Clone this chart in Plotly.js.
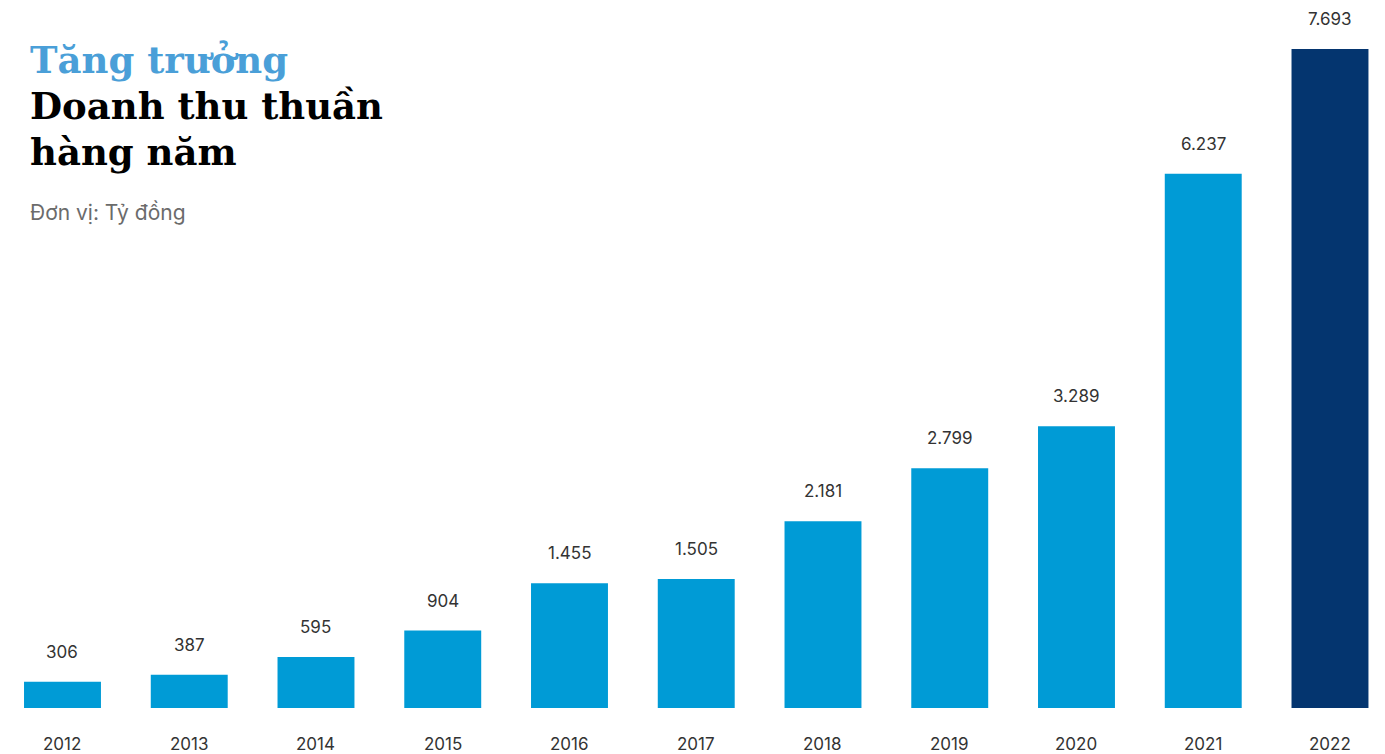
<!DOCTYPE html>
<html>
<head>
<meta charset="utf-8">
<script src="https://cdn.plot.ly/plotly-3.0.1.min.js"></script>
<style>html,body{margin:0;padding:0;background:#fff;}#chart{width:1385px;height:754px;}</style>
</head>
<body>
<div id="chart"></div>
<script>
const years = ["2012","2013","2014","2015","2016","2017","2018","2019","2020","2021","2022"];
const revenue = [306, 387, 595, 904, 1455, 1505, 2181, 2799, 3289, 6237, 7693];
const barColors = ["#009bd6","#009bd6","#009bd6","#009bd6","#009bd6","#009bd6","#009bd6","#009bd6","#009bd6","#009bd6","#04356f"];
const titleLine1 = "Tăng trưởng";
const titleLine2 = "Doanh thu thuần";
const titleLine3 = "hàng năm";
const unitText = "Đơn vị: Tỷ đồng";

function fmt(v){ return String(v).replace(/\B(?=(\d{3})+(?!\d))/g, "."); }

const W = 1385, plotH = 708;
const labelFont = {family: "Inter, 'Noto Sans', sans-serif", size: 17, color: "#333333"};
const serif = "'DejaVu Serif', 'Liberation Serif', serif";

const annotations = [];
years.forEach((y, i) => {
  annotations.push({x: i, y: revenue[i], xref: "x", yref: "y", text: fmt(revenue[i]),
    showarrow: false, yanchor: "middle", xanchor: "center", yshift: 30, font: labelFont});
  annotations.push({x: i, y: 0, xref: "x", yref: "y", text: y,
    showarrow: false, yanchor: "middle", xanchor: "center", yshift: -36, font: labelFont});
});
function px(x, y){ return {x: x / W, y: 1 - y / plotH}; }
const t1 = px(28, 60), t2 = px(28, 106), t3 = px(28, 152), t4 = px(28, 212);
annotations.push({x: t1.x, y: t1.y, xref: "paper", yref: "paper", xanchor: "left", yanchor: "middle",
  showarrow: false, text: "<b>" + titleLine1 + "</b>", font: {family: serif, size: 37, color: "#4a9fd8"}});
annotations.push({x: t2.x, y: t2.y, xref: "paper", yref: "paper", xanchor: "left", yanchor: "middle",
  showarrow: false, text: "<b>" + titleLine2 + "</b>", font: {family: serif, size: 37, color: "#000000"}});
annotations.push({x: t3.x, y: t3.y, xref: "paper", yref: "paper", xanchor: "left", yanchor: "middle",
  showarrow: false, text: "<b>" + titleLine3 + "</b>", font: {family: serif, size: 37, color: "#000000"}});
annotations.push({x: t4.x, y: t4.y, xref: "paper", yref: "paper", xanchor: "left", yanchor: "middle",
  showarrow: false, text: unitText, font: {family: "Inter, 'Noto Sans', sans-serif", size: 21, color: "#6b6b6b"}});

const trace = {type: "bar", x: years, y: revenue, marker: {color: barColors, line: {width: 0}},
  hoverinfo: "skip"};

const layout = {
  width: W, height: 754,
  margin: {l: 0, r: 0, t: 0, b: 46, pad: 0},
  paper_bgcolor: "#ffffff", plot_bgcolor: "#ffffff",
  bargap: 0.393,
  showlegend: false,
  xaxis: {type: "category", range: [-0.493, 10.434], showticklabels: false, showgrid: false,
    zeroline: false, showline: false, ticks: ""},
  yaxis: {range: [0, 8265], showticklabels: false, showgrid: false, zeroline: false, showline: false, ticks: ""},
  annotations: annotations
};
Plotly.newPlot("chart", [trace], layout, {displayModeBar: false, staticPlot: true});
</script>
</body>
</html>
